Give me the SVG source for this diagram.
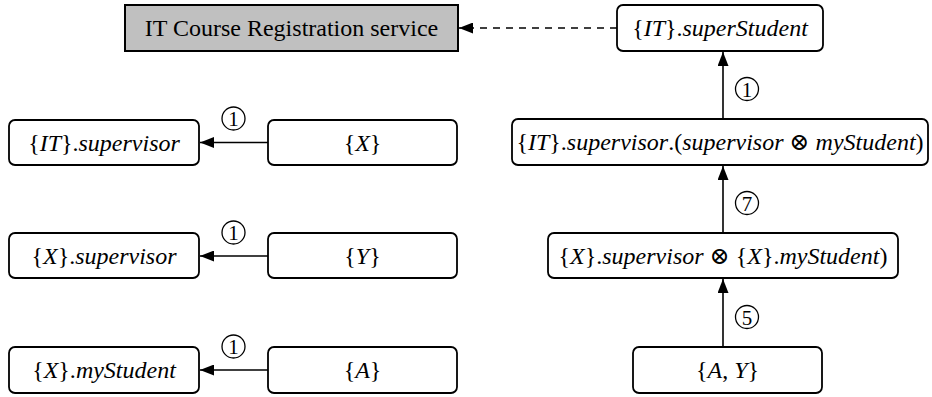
<svg xmlns="http://www.w3.org/2000/svg" width="932" height="397" viewBox="0 0 932 397">
<style>
text{font-family:"Liberation Serif","DejaVu Serif",serif;font-size:24px;fill:#000;text-anchor:middle}
.i{font-style:italic}
.box{fill:#fff;stroke:#000;stroke-width:1.8}
.gray{fill:#c0c0c0;stroke:#000;stroke-width:2}
.edge{stroke:#000;stroke-width:1.6;fill:none}
.dash{stroke-dasharray:7 6}
.num{fill:none;stroke:#000;stroke-width:1.3}
.d{font-size:21px}
</style>
<defs>
<marker id="ah" markerUnits="userSpaceOnUse" markerWidth="15" markerHeight="11" refX="14" refY="5.5" orient="auto">
<path d="M0,0 L14,5.5 L0,11 z" fill="#000"/>
</marker>
</defs>
<g id="connectors">
<line class="edge" x1="268" y1="142.5" x2="200" y2="142.5" marker-end="url(#ah)"/>
<line class="edge" x1="268" y1="256" x2="200" y2="256" marker-end="url(#ah)"/>
<line class="edge" x1="268" y1="370" x2="200" y2="370" marker-end="url(#ah)"/>
<line class="edge dash" x1="617" y1="28" x2="459" y2="28" marker-end="url(#ah)"/>
<line class="edge" x1="723" y1="119" x2="723" y2="52" marker-end="url(#ah)"/>
<line class="edge" x1="723" y1="233" x2="723" y2="166" marker-end="url(#ah)"/>
<line class="edge" x1="723" y1="347" x2="723" y2="279" marker-end="url(#ah)"/>
<g id="labels">
<circle class="num" cx="233.5" cy="118.5" r="11.5"/><text class="d" x="233.5" y="126">1</text>
<circle class="num" cx="233.5" cy="232.5" r="11.5"/><text class="d" x="233.5" y="240">1</text>
<circle class="num" cx="233.5" cy="346.5" r="11.5"/><text class="d" x="233.5" y="354">1</text>
<circle class="num" cx="747" cy="89" r="11.5"/><text class="d" x="747" y="96.5">1</text>
<circle class="num" cx="747" cy="203" r="11.5"/><text class="d" x="747" y="210.5">7</text>
<circle class="num" cx="747" cy="317" r="11.5"/><text class="d" x="747" y="324.5">5</text>
</g>
</g>
<g id="service">
<rect class="gray" x="125" y="5" width="333" height="46"/>
<text x="291.5" y="36">IT Course Registration service</text>
</g>
<g id="superStudent">
<rect class="box" x="617" y="5" width="206" height="46" rx="6"/>
<text x="720" y="36">{<tspan class="i">IT</tspan>}.<tspan class="i">superStudent</tspan></text>
</g>
<g id="itSupervisorCombined">
<rect class="box" x="512" y="119" width="416" height="46" rx="6"/>
<text x="720" y="150">{<tspan class="i">IT</tspan>}.<tspan class="i">supervisor</tspan>.(<tspan class="i">supervisor</tspan> ⊗ <tspan class="i">myStudent</tspan>)</text>
</g>
<g id="xCombined">
<rect class="box" x="548" y="233" width="350" height="45" rx="6"/>
<text x="723" y="263.5">{<tspan class="i">X</tspan>}.<tspan class="i">supervisor</tspan> ⊗ {<tspan class="i">X</tspan>}.<tspan class="i">myStudent</tspan>)</text>
</g>
<g id="AY">
<rect class="box" x="633" y="347" width="189" height="46" rx="6"/>
<text x="727.5" y="378">{<tspan class="i">A</tspan>, <tspan class="i">Y</tspan>}</text>
</g>
<g id="itSupervisor">
<rect class="box" x="9" y="120" width="190" height="45" rx="6"/>
<text x="104" y="150.5">{<tspan class="i">IT</tspan>}.<tspan class="i">supervisor</tspan></text>
</g>
<g id="X">
<rect class="box" x="268" y="120" width="189" height="45" rx="6"/>
<text x="362.5" y="150.5">{<tspan class="i">X</tspan>}</text>
</g>
<g id="xSupervisor">
<rect class="box" x="9" y="233" width="190" height="45" rx="6"/>
<text x="104" y="263.5">{<tspan class="i">X</tspan>}.<tspan class="i">supervisor</tspan></text>
</g>
<g id="Y">
<rect class="box" x="268" y="233" width="189" height="45" rx="6"/>
<text x="362.5" y="263.5">{<tspan class="i">Y</tspan>}</text>
</g>
<g id="xMyStudent">
<rect class="box" x="9" y="347" width="190" height="46" rx="6"/>
<text x="104" y="378">{<tspan class="i">X</tspan>}.<tspan class="i">myStudent</tspan></text>
</g>
<g id="A">
<rect class="box" x="268" y="347" width="189" height="46" rx="6"/>
<text x="362.5" y="378">{<tspan class="i">A</tspan>}</text>
</g>
</svg>
